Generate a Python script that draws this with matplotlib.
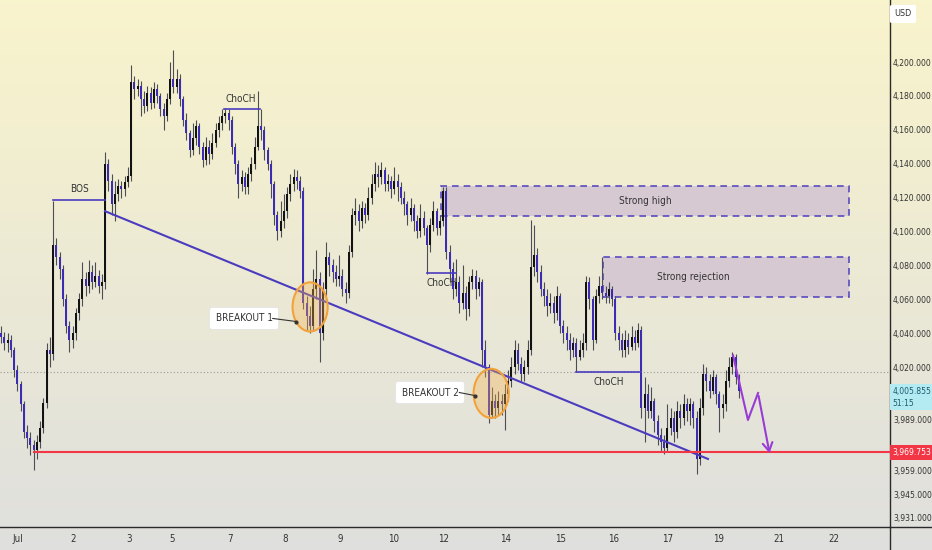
import numpy as np
import matplotlib
matplotlib.use('Agg')
import matplotlib.pyplot as plt
import matplotlib.transforms as mtransforms
from matplotlib import font_manager as fm
from matplotlib.textpath import TextPath
from matplotlib.patches import Rectangle, Ellipse
from matplotlib.lines import Line2D

# pick a narrow face if the machine has one, otherwise Roboto
fonts = fm.fontManager.ttflist
narrow = None
for want in ('Liberation Sans Narrow', 'DejaVu Sans', 'Roboto Condensed', 'Open Sans', 'Noto Sans'):
    for f in fonts:
        if f.name == want and (f.stretch in ('condensed', 'semi-condensed') or 'Narrow' in f.name
                               or 'Condensed' in f.name):
            narrow = f
            break
    if narrow is not None:
        break
if narrow is not None:
    plt.rcParams['font.family'] = [narrow.name, 'DejaVu Sans']
    plt.rcParams['font.stretch'] = narrow.stretch
    fs = 1.0
else:
    plt.rcParams['font.family'] = ['Roboto', 'DejaVu Sans']
    fs = 0.88

# price-scale labels must fit in the strip right of the axis (about 39 px)
w7 = TextPath((0, 0), '4,200.000', size=7, prop=fm.FontProperties()).get_extents().width
ps = min(7.0, 7.0 * 27.5 / w7)

# ---- price data (one value per candle) ----
first_open = 4040.0
close = [4038, 4034, 4036, 4030, 4018, 4010, 3998, 3982, 3978, 3974,
         3971, 3976, 3984, 3999, 4030, 4028, 4092, 4085, 4078, 4060,
         4044, 4036, 4040, 4052, 4060, 4072, 4068, 4076, 4070, 4074,
         4068, 4070, 4140, 4130, 4116, 4122, 4127, 4125, 4129, 4133,
         4188, 4184, 4186, 4178, 4174, 4182, 4176, 4184, 4180, 4172,
         4168, 4178, 4190, 4185, 4190, 4178, 4166, 4158, 4148, 4155,
         4162, 4150, 4142, 4150, 4146, 4152, 4160, 4164, 4168, 4170,
         4166, 4150, 4140, 4128, 4132, 4126, 4134, 4140, 4150, 4162,
         4160, 4148, 4140, 4128, 4110, 4100, 4106, 4112, 4122, 4128,
         4132, 4130, 4124, 4058, 4050, 4044, 4066, 4072, 4040, 4066,
         4085, 4080, 4076, 4072, 4074, 4066, 4064, 4088, 4110, 4112,
         4106, 4114, 4110, 4120, 4128, 4134, 4132, 4136, 4128, 4130,
         4125, 4130, 4126, 4120, 4116, 4110, 4114, 4106, 4100, 4108,
         4102, 4092, 4104, 4112, 4102, 4106, 4124, 4088, 4078, 4066,
         4070, 4058, 4064, 4054, 4070, 4074, 4066, 4070, 4030, 4020,
         3992, 4000, 3996, 4000, 3998, 4004, 4012, 4020, 4030, 4022,
         4016, 4020, 4030, 4079, 4086, 4076, 4066, 4062, 4056, 4058,
         4052, 4062, 4044, 4040, 4036, 4030, 4034, 4026, 4030, 4034,
         4070, 4060, 4036, 4062, 4068, 4064, 4062, 4066, 4060, 4040,
         4036, 4030, 4036, 4032, 4038, 4034, 4042, 3996, 4004, 3994,
         4000, 3988, 3980, 3976, 3972, 3984, 3990, 3982, 3994, 3990,
         3998, 3994, 3998, 3990, 3966, 3996, 4016, 4012, 4006, 4014,
         4004, 3996, 3998, 4012, 4020, 4026, 4014, 4005.855]
high = [4044, 4041, 4040, 4039, 4032, 4021, 4012, 4000, 3986, 3982,
        3977, 3980, 3988, 4002, 4034, 4038, 4118, 4096, 4088, 4080,
        4063, 4047, 4044, 4055, 4064, 4082, 4076, 4083, 4080, 4082,
        4077, 4075, 4147, 4143, 4134, 4130, 4131, 4130, 4133, 4138,
        4198, 4192, 4190, 4189, 4183, 4186, 4185, 4188, 4187, 4182,
        4176, 4182, 4200, 4207, 4196, 4193, 4180, 4170, 4160, 4164,
        4166, 4164, 4153, 4156, 4154, 4158, 4164, 4168, 4172, 4173,
        4172, 4168, 4152, 4142, 4136, 4135, 4138, 4144, 4156, 4183,
        4172, 4162, 4150, 4142, 4130, 4112, 4118, 4122, 4126, 4134,
        4137, 4136, 4133, 4126, 4062, 4056, 4078, 4089, 4076, 4070,
        4094, 4088, 4084, 4080, 4086, 4078, 4070, 4092, 4114, 4120,
        4116, 4118, 4117, 4126, 4134, 4141, 4139, 4141, 4138, 4134,
        4133, 4138, 4134, 4129, 4124, 4118, 4120, 4116, 4110, 4116,
        4112, 4104, 4108, 4118, 4114, 4110, 4126, 4126, 4092, 4082,
        4084, 4074, 4080, 4068, 4074, 4078, 4077, 4073, 4072, 4036,
        4022, 4008, 4004, 4006, 4004, 4010, 4018, 4026, 4036, 4034,
        4026, 4024, 4036, 4107, 4104, 4090, 4080, 4070, 4066, 4064,
        4062, 4068, 4064, 4048, 4044, 4040, 4038, 4037, 4036, 4040,
        4074, 4073, 4062, 4066, 4074, 4085, 4068, 4070, 4068, 4062,
        4044, 4040, 4042, 4040, 4044, 4042, 4046, 4044, 4014, 4010,
        4008, 4002, 3992, 3984, 3980, 3998, 3996, 3994, 4000, 3998,
        4004, 4002, 4002, 4000, 3994, 4002, 4022, 4020, 4016, 4018,
        4016, 4006, 4004, 4018, 4026, 4029, 4028, 4016]
low = [4034, 4030, 4029, 4026, 4014, 4006, 3994, 3978, 3972, 3968,
       3959, 3966, 3972, 3981, 3996, 4020, 4024, 4080, 4072, 4056,
       4040, 4029, 4031, 4036, 4048, 4056, 4062, 4064, 4066, 4067,
       4064, 4060, 4066, 4124, 4110, 4106, 4118, 4120, 4121, 4126,
       4130, 4178, 4180, 4168, 4170, 4171, 4172, 4173, 4176, 4168,
       4160, 4165, 4175, 4182, 4182, 4174, 4162, 4154, 4144, 4145,
       4151, 4146, 4138, 4139, 4140, 4143, 4150, 4156, 4160, 4164,
       4160, 4146, 4134, 4120, 4124, 4122, 4122, 4130, 4137, 4148,
       4154, 4142, 4136, 4120, 4104, 4095, 4097, 4102, 4108, 4118,
       4124, 4125, 4120, 4054, 4042, 4040, 4042, 4060, 4023, 4036,
       4062, 4074, 4070, 4068, 4068, 4062, 4058, 4061, 4085, 4104,
       4100, 4102, 4105, 4107, 4116, 4124, 4126, 4128, 4124, 4124,
       4120, 4122, 4118, 4116, 4110, 4104, 4106, 4100, 4096, 4097,
       4098, 4075, 4088, 4100, 4098, 4098, 4103, 4084, 4070, 4060,
       4062, 4052, 4054, 4048, 4050, 4066, 4060, 4062, 4020, 4014,
       3987, 3990, 3990, 3992, 3992, 3983, 4000, 4008, 4016, 4018,
       4012, 4012, 4016, 4027, 4074, 4070, 4062, 4056, 4050, 4052,
       4046, 4048, 4040, 4034, 4030, 4024, 4026, 4017, 4024, 4026,
       4030, 4054, 4030, 4034, 4058, 4060, 4058, 4058, 4056, 4036,
       4030, 4026, 4026, 4028, 4030, 4030, 4032, 3990, 3976, 3990,
       3990, 3982, 3974, 3970, 3969, 3970, 3980, 3976, 3978, 3984,
       3986, 3988, 3986, 3984, 3957, 3962, 3992, 4006, 4002, 4004,
       3998, 3982, 3990, 3994, 4008, 4016, 4010, 4002]

# ---- axis labels ----
day_labels = ['Jul', '2', '3', '5', '7', '8', '9', '10', '12', '14', '15',
              '16', '17', '19', '21', '22']
day_pos = [5.2, 22.2, 39.4, 52.6, 70.5, 87.4, 104.3, 120.9, 136.0, 155.1,
           172.0, 188.3, 205.2, 220.6, 239.4, 256.3]
price_ticks = [4200, 4180, 4160, 4140, 4120, 4100, 4080, 4060, 4040, 4020,
               3989, 3972, 3959, 3945, 3931]

# ---- drawings ----
last_price = 4005.855
support = 3969.753
prev_line = 4017
trend_x, trend_y = [32, 217.5], [4112, 3965.8]
bos_x, bos_y = [16, 32], 4118.6
choch1_x, choch1_y = [68.6, 79.7], 4172.3
choch2_x, choch2_y = [131, 140], 4075.5
choch3_x, choch3_y = [177, 197], 4017
strong_high = (135.4, 260.9, 4109.1, 4126.8)
strong_rej = (185.2, 260.9, 4061.4, 4085.0)
ell1 = (95.1, 4055.5)
ell2 = (150.8, 4004.5)
proj_x = [225.2, 229.8, 232.9, 236.6]
proj_y = [4027, 3988.8, 4004.7, 3967.6]

BULL = '#121212'
BEAR = '#3c2cb4'
LINE = '#4a3bbf'
TXT = '#333333'

fig = plt.figure(figsize=(9.32, 5.5), dpi=100)

# background gradient
bg = fig.add_axes([0, 0, 1, 1], zorder=0)
top = np.array([0.976, 0.957, 0.800])
bot = np.array([0.875, 0.875, 0.868])
t = np.linspace(0, 1, 256)[:, None]
grad = (top * (1 - t) + bot * t)[:, None, :]
bg.imshow(grad, aspect='auto', extent=[0, 1, 0, 1])
bg.axis('off')

ax = fig.add_axes([0, 23 / 550, 890 / 932, 527 / 550], zorder=1)
ax.patch.set_alpha(0)

idx = np.arange(len(close))
c = np.array(close, dtype=float)
o = np.concatenate([[first_open], c[:-1]])
h = np.array(high, dtype=float)
l = np.array(low, dtype=float)
up = c >= o
cols = np.where(up, BULL, BEAR)

ax.vlines(idx, l, h, colors='#4d4d55', lw=0.8, zorder=2)
body = np.maximum(np.abs(c - o), 0.8)
ax.bar(idx, body, bottom=np.minimum(o, c), width=0.62, color=cols, zorder=3)

# zones
for x0, x1, y0, y1 in (strong_high, strong_rej):
    ax.add_patch(Rectangle((x0, y0), x1 - x0, y1 - y0, fc='#d4c6d2', ec=LINE,
                           lw=1.2, ls=(0, (4, 3)), alpha=0.9, zorder=1.5))
ax.text((strong_high[0] + strong_high[1]) / 2, (strong_high[2] + strong_high[3]) / 2,
        'Strong high', ha='center', va='center', fontsize=7.2 * fs, color=TXT, zorder=4)
ax.text((strong_rej[0] + strong_rej[1]) / 2 - 10, (strong_rej[2] + strong_rej[3]) / 2,
        'Strong rejection', ha='center', va='center', fontsize=7.2 * fs, color=TXT, zorder=4)

# structure lines
ax.plot(trend_x, trend_y, color=LINE, lw=1.5, zorder=4)
ax.plot(bos_x, [bos_y, bos_y], color=LINE, lw=1.2, zorder=4)
ax.text(sum(bos_x) / 2, bos_y + 3.5, 'BOS', ha='center', va='bottom', fontsize=7.2 * fs, color=TXT)
ax.plot(choch1_x, [choch1_y, choch1_y], color=LINE, lw=1.2, zorder=4)
ax.text(sum(choch1_x) / 2 - 0.5, choch1_y + 3, 'ChoCH', ha='center', va='bottom', fontsize=7.2 * fs, color=TXT)
ax.plot(choch2_x, [choch2_y, choch2_y], color=LINE, lw=1.2, zorder=4)
ax.text(sum(choch2_x) / 2, choch2_y - 3, 'ChoCH', ha='center', va='top', fontsize=7.2 * fs, color=TXT)
ax.plot(choch3_x, [choch3_y, choch3_y], color=LINE, lw=1.2, zorder=4)
ax.text(sum(choch3_x) / 2, choch3_y - 3, 'ChoCH', ha='center', va='top', fontsize=7.2 * fs, color=TXT)

ax.axhline(prev_line, color='#9a9a9a', lw=0.8, ls=(0, (1, 2)), zorder=1.6)
ax.plot([10, 274], [support, support], color='#f23645', lw=1.5, zorder=4)

# breakout circles and labels
for (ex, ey), lab, lx, ly, ax0, ax1 in ((ell1, 'BREAKOUT 1', 74.8, 4048.7, 83.6, 90.8),
                                        (ell2, 'BREAKOUT 2', 132.0, 4005.0, 141.0, 145.8)):
    ax.add_patch(Ellipse((ex, ey), 10.8, 29, fc='#f6b24c', alpha=0.35, ec='none', zorder=5))
    ax.add_patch(Ellipse((ex, ey), 10.8, 29, fc='none', ec='#f2a23a', lw=1.5, zorder=5))
    ax.text(lx, ly, lab, ha='center', va='center', fontsize=7.2 * fs, color=TXT, zorder=6,
            bbox=dict(boxstyle='round,pad=0.6,rounding_size=0.25', fc='white', ec='#e4e4e4', lw=0.6))
    ax.plot([ax0, ax1], [ly, ly - 1.8], color=TXT, lw=0.8, zorder=6)
    ax.plot([ax1], [ly - 1.8], 'o', color=TXT, ms=2, zorder=6)

# projected path
ax.plot(proj_x[:3], proj_y[:3], color='#9a3bd6', lw=1.5, zorder=6)
ax.annotate('', xy=(proj_x[3], proj_y[3]), xytext=(proj_x[2], proj_y[2]),
            arrowprops=dict(arrowstyle='->,head_length=0.6,head_width=0.35',
                            color='#9a3bd6', lw=1.5), zorder=6)

# axes cosmetics
ax.set_xlim(-0.31, 273.5)
ax.set_ylim(3925.66, 4236.58)
ax.set_xticks(day_pos)
ax.set_xticklabels(day_labels)
ax.yaxis.tick_right()
ax.set_yticks(price_ticks)
ax.set_yticklabels([f'{v:,.3f}' for v in price_ticks])
ax.tick_params(axis='x', length=0, pad=5, labelsize=7 * fs, labelcolor=TXT)
ax.tick_params(axis='y', length=0, pad=2.2, labelsize=ps, labelcolor=TXT)
for s in ('left', 'top'):
    ax.spines[s].set_visible(False)
for s in ('right', 'bottom'):
    ax.spines[s].set_color('#2a2a2a')
    ax.spines[s].set_linewidth(1.0)
fig.add_artist(Line2D([890 / 932, 890 / 932], [0, 23 / 550], color='#2a2a2a', lw=1.0))
fig.add_artist(Line2D([890 / 932, 1], [23 / 550, 23 / 550], color='#2a2a2a', lw=1.0))

# price axis labels
blend = mtransforms.blended_transform_factory(ax.transAxes, ax.transData)
ax.add_patch(Rectangle((1.0, last_price - 11), 0.05, 15.2, transform=blend, fc='#b4ebf3',
                       ec='none', clip_on=False, zorder=7))
ax.text(1.003, last_price - 0.3, f'{last_price:,.3f}', transform=blend, ha='left', va='center',
        fontsize=ps, color='#1d5c6e', clip_on=False, zorder=8)
ax.text(1.003, last_price - 7.4, '51:15', transform=blend, ha='left', va='center',
        fontsize=ps, color='#1d5c6e', clip_on=False, zorder=8)
ax.add_patch(Rectangle((1.0, support - 4.5), 0.05, 9.0, transform=blend, fc='#f23645',
                       ec='none', clip_on=False, zorder=7))
ax.text(1.003, support, f'{support:,.3f}', transform=blend, ha='left', va='center',
        fontsize=ps, color='white', clip_on=False, zorder=8)
fig.text(903 / 932, 1 - 14 / 550, 'USD', ha='center', va='center', fontsize=6.5 * fs, color=TXT,
         bbox=dict(boxstyle='round,pad=0.5,rounding_size=0.2', fc='white', ec='none'))

fig.savefig('out.png', dpi=100)
